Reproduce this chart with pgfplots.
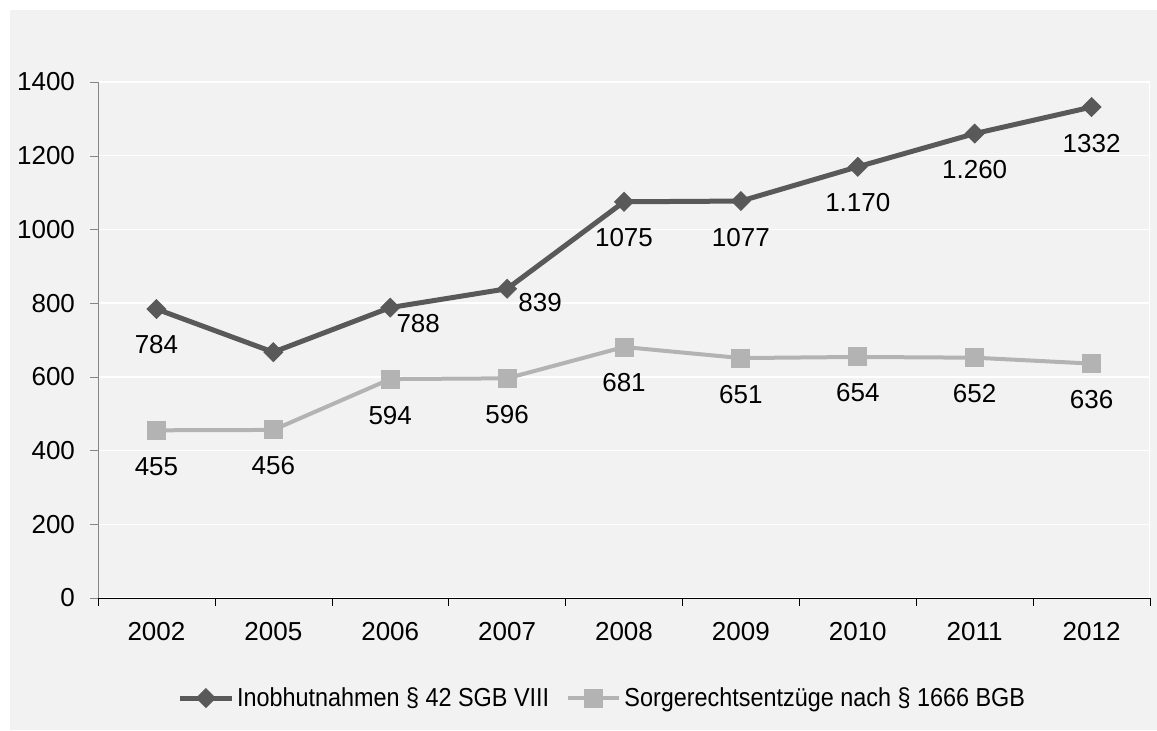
\documentclass[border=0pt]{standalone}
\usepackage{pgfplots}
\pgfplotsset{compat=1.18}
\usepackage{pgfplotstable}
\usepackage{fontspec}
\setmainfont{Liberation Sans}
\newfontfamily\narrowfont[FakeStretch=0.9]{Liberation Sans}
\definecolor{bggray}{HTML}{F2F2F2}
\definecolor{dgray}{HTML}{595959}
\definecolor{lgray}{HTML}{B3B3B3}
\definecolor{axgray}{HTML}{868686}

% Inobhutnahmen
\pgfplotstableread{
x y lab dx dy
0 784 784 0 -18
1 667 {} 0 -18
2 788 788 14 -8
3 839 839 16.5 -7
4 1075 1075 0 -18
5 1077 1077 0 -18
6 1170 1.170 0 -18
7 1260 1.260 0 -18
8 1332 1332 0 -18
}\inob

% Sorgerechtsentzuege
\pgfplotstableread{
x y lab dx dy
0 455 455 0 -18
1 456 456 0 -18
2 594 594 0 -18
3 596 596 0 -18
4 681 681 0 -18
5 651 651 0 -18
6 654 654 0 -18
7 652 652 0 -18
8 636 636 0 -18
}\sorge

\begin{document}
\begin{tikzpicture}[x=1pt,y=1pt]
\fill[white] (0,0) rectangle (578.5,365);
\useasboundingbox (0,0) rectangle (578.5,365);
\fill[bggray] (5,0) rectangle (578.5,360);
\begin{axis}[
    at={(49pt,66pt)}, anchor=south west,
    scale only axis, width=526pt, height=258pt,
    xmin=-0.5, xmax=8.5, ymin=0, ymax=1400,
    axis x line*=bottom, axis y line*=left,
    x axis line style={draw=black,-},
    y axis line style={draw=axgray,-},
    tick align=outside, major tick length=4pt,
    x tick style={black}, y tick style={axgray},
    xtick={-0.5,0.5,1.5,2.5,3.5,4.5,5.5,6.5,7.5,8.5},
    xticklabels={,,,,,,,,,},
    extra x ticks={0,1,2,3,4,5,6,7,8},
    extra x tick labels={2002,2005,2006,2007,2008,2009,2010,2011,2012},
    extra x tick style={major tick length=0pt},
    ytick={0,200,...,1400},
    ymajorgrids, grid style={white, line width=0.75pt},
    tick label style={font=\fontsize{13}{15}\selectfont},
    xticklabel style={yshift=-8.5pt},
    yticklabel style={xshift=-4pt},
    /pgf/number format/assume math mode=true,
    /pgf/number format/1000 sep={},
    legend style={at={(0.48,-0.194)}, anchor=center, draw=none, fill=none,
        font=\narrowfont\fontsize{13}{15}\selectfont,
        nodes={inner xsep=1.5pt},
        /tikz/every even column/.append style={column sep=7pt}},
    legend columns=2,
    legend image code/.code={\draw[mark repeat=2,mark phase=2,#1] plot coordinates {(0cm,0cm) (0.45cm,0cm) (0.9cm,0cm)};},
    nodes near coords,
    point meta=explicit symbolic,
    visualization depends on={\thisrow{dx}\as\ldx},
    visualization depends on={\thisrow{dy}\as\ldy},
    every node near coord/.append style={anchor=center, text=black,
        font=\fontsize{13}{15}\selectfont, xshift=\ldx pt, yshift=\ldy pt},
]
\addplot[dgray, line width=2.5pt, mark=square*, mark size=3.3pt,
    mark options={rotate=45, line width=0.5pt}]
    table[x=x, y=y, meta=lab] {\inob};
\addlegendentry{Inobhutnahmen \S\ 42 SGB VIII}
\addplot[lgray, line width=2pt, mark=square*, mark size=4.5pt,
    mark options={line width=0.5pt}]
    table[x=x, y=y, meta=lab] {\sorge};
\addlegendentry{Sorgerechtsentzüge nach \S\ 1666 BGB}
\draw[white, line width=0.75pt] (rel axis cs:1,0) -- (rel axis cs:1,1);
\end{axis}
\end{tikzpicture}
\end{document}
